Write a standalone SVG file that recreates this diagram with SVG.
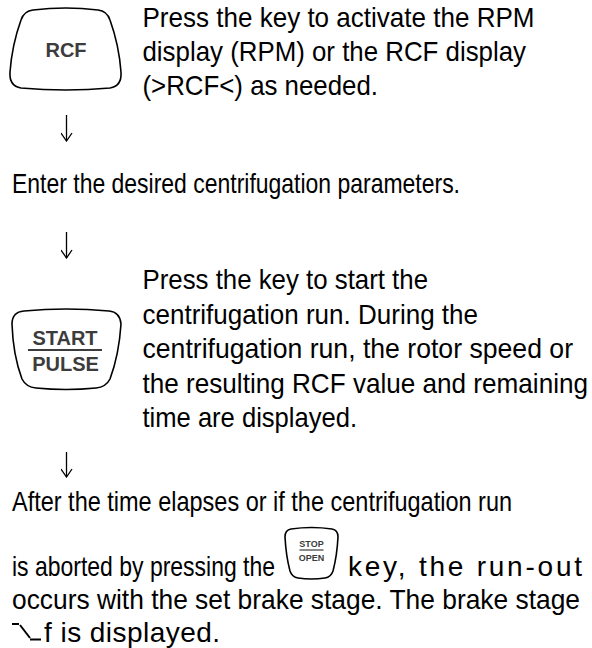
<svg xmlns="http://www.w3.org/2000/svg" width="592" height="648" viewBox="0 0 592 648">
<defs>
<style>
.t{font-family:"Liberation Sans",Arial,sans-serif;font-size:28px;fill:#000;}
.k{font-family:"Liberation Sans",Arial,sans-serif;font-weight:bold;fill:#3c3c3c;text-anchor:middle;}
.key{fill:#fff;stroke:#000;stroke-width:1.6;}
.con{stroke:#000;stroke-width:1.3;fill:none;}
</style>
<marker id="ah" viewBox="0 0 10 12" refX="9" refY="6" markerWidth="10" markerHeight="12" markerUnits="userSpaceOnUse" orient="auto">
<path d="M1,0.5 L9,6 L1,11.5" fill="none" stroke="#000" stroke-width="1.3"/>
</marker>
</defs>
<rect width="592" height="648" fill="#fff"/>
<g id="connectors">
<path class="con" d="M66.5,115 V141" marker-end="url(#ah)"/>
<path class="con" d="M66.5,232 V258" marker-end="url(#ah)"/>
<path class="con" d="M66.5,452 V477" marker-end="url(#ah)"/>
</g>
<g id="rcf-key">
<path class="key" d="M33,10 Q66,6 98,10 Q107,11 110,20 Q119,45 121,72 Q122,86 110,88 Q66,92 21,88 Q9,86 10,72 Q12,45 21,20 Q24,11 33,10 Z"/>
<text class="k" x="66" y="57" font-size="20">RCF</text>
</g>
<g id="step1-text">
<text class="t" x="142.5" y="27" textLength="392" lengthAdjust="spacingAndGlyphs">Press the key to activate the RPM</text>
<text class="t" x="142.5" y="61" textLength="383.5" lengthAdjust="spacingAndGlyphs">display (RPM) or the RCF display</text>
<text class="t" x="142.5" y="95" textLength="235.5" lengthAdjust="spacingAndGlyphs">(&gt;RCF&lt;) as needed.</text>
</g>
<g id="step2-text">
<text class="t" x="12" y="193" textLength="448" lengthAdjust="spacingAndGlyphs">Enter the desired centrifugation parameters.</text>
</g>
<g id="start-key">
<path class="key" d="M24,311 Q66,307 109,311 Q120,312 121,324 Q119,355 110,379 Q106,387 96,388 Q66,391 36,388 Q26,387 22,379 Q13,355 12,324 Q12,312 24,311 Z"/>
<text class="k" x="65" y="345" font-size="20">START</text>
<line x1="28" y1="350" x2="102" y2="350" stroke="#3c3c3c" stroke-width="2"/>
<text class="k" x="65.5" y="371" font-size="20">PULSE</text>
</g>
<g id="step3-text">
<text class="t" x="142.5" y="289" textLength="285.5" lengthAdjust="spacingAndGlyphs">Press the key to start the</text>
<text class="t" x="142.5" y="324" textLength="335.5" lengthAdjust="spacingAndGlyphs">centrifugation run. During the</text>
<text class="t" x="142.5" y="358" textLength="430.5" lengthAdjust="spacingAndGlyphs">centrifugation run, the rotor speed or</text>
<text class="t" x="142.5" y="393" textLength="445.5" lengthAdjust="spacingAndGlyphs">the resulting RCF value and remaining</text>
<text class="t" x="142.5" y="427" textLength="214.5" lengthAdjust="spacingAndGlyphs">time are displayed.</text>
</g>
<g id="step4-text">
<text class="t" x="12" y="511" textLength="500" lengthAdjust="spacingAndGlyphs">After the time elapses or if the centrifugation run</text>
<text class="t" x="12" y="576" textLength="263" lengthAdjust="spacingAndGlyphs">is aborted by pressing the</text>
<text class="t" x="348" y="576" textLength="234" lengthAdjust="spacing">key, the run-out</text>
<text class="t" x="12" y="609" textLength="568" lengthAdjust="spacingAndGlyphs">occurs with the set brake stage. The brake stage</text>
<path d="M12,624 H19 M20,625 L30,638 M30,639.5 H41" stroke="#000" stroke-width="2" fill="none"/>
<text class="t" x="44" y="642" textLength="176" lengthAdjust="spacing">f is displayed.</text>
</g>
<g id="stop-key">
<path class="key" stroke-width="1.1" d="M291,529 Q311.5,526 332,529 Q338,530 338,537 Q337,556 333,571 Q331,577 325,578 Q311.5,580 298,578 Q292,577 290,571 Q286,556 285,537 Q285,530 291,529 Z"/>
<text class="k" x="311.5" y="547" font-size="9">STOP</text>
<line x1="299.5" y1="550" x2="323.5" y2="550" stroke="#3c3c3c" stroke-width="1.2"/>
<text class="k" x="311.5" y="561" font-size="9">OPEN</text>
</g>
</svg>
